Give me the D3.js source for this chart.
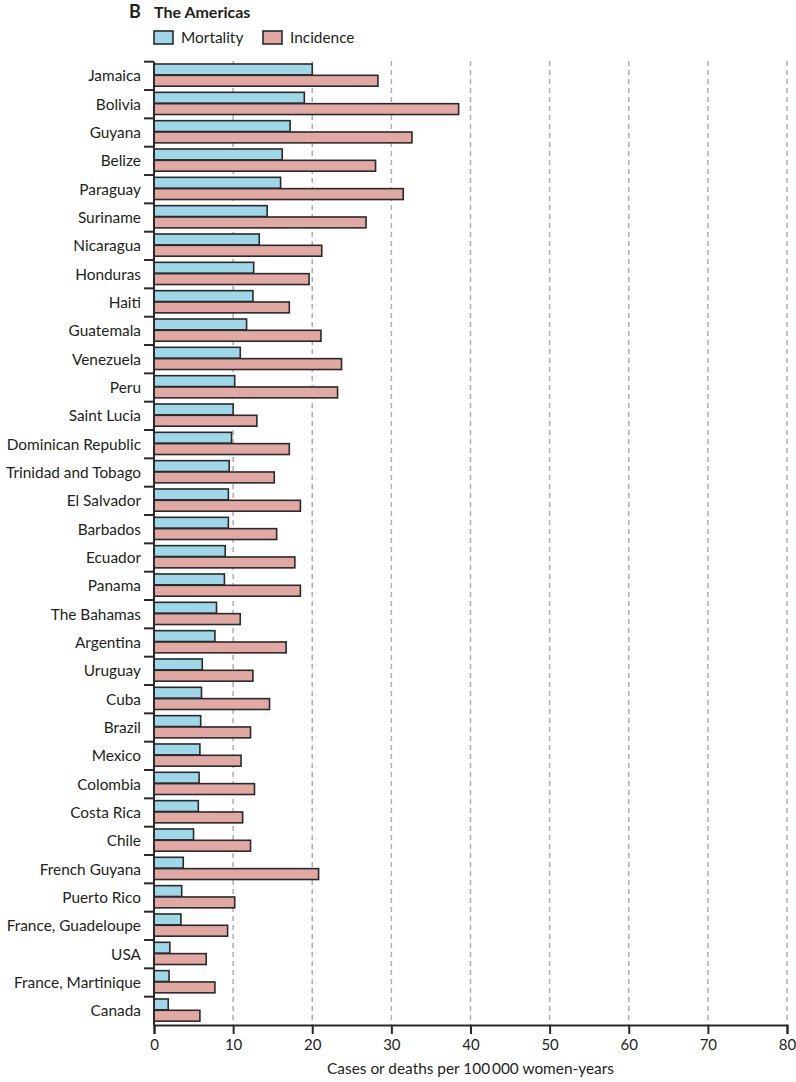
<!DOCTYPE html>
<html><head><meta charset="utf-8">
<script src="https://cdn.jsdelivr.net/npm/d3@7"></script>
<style>
body{margin:0;background:#fff;}
svg text{font-family:Lato,"Open Sans",sans-serif;fill:#231f20;}
</style></head>
<body><svg id="c" width="796" height="1082"></svg>
<script>
const countries = ["Jamaica","Bolivia","Guyana","Belize","Paraguay","Suriname","Nicaragua","Honduras","Haiti","Guatemala","Venezuela","Peru","Saint Lucia","Dominican Republic","Trinidad and Tobago","El Salvador","Barbados","Ecuador","Panama","The Bahamas","Argentina","Uruguay","Cuba","Brazil","Mexico","Colombia","Costa Rica","Chile","French Guyana","Puerto Rico","France, Guadeloupe","USA","France, Martinique","Canada"];
const mortality = [20.0,19.0,17.2,16.2,16.0,14.3,13.3,12.6,12.5,11.7,10.9,10.2,10.0,9.8,9.5,9.4,9.4,9.0,8.9,7.9,7.7,6.1,6.0,5.9,5.8,5.7,5.6,5.0,3.7,3.5,3.4,2.0,1.9,1.8];
const incidence = [28.3,38.5,32.6,28.0,31.5,26.8,21.2,19.6,17.1,21.1,23.7,23.2,13.0,17.1,15.2,18.5,15.5,17.8,18.5,10.9,16.7,12.5,14.6,12.2,11.0,12.7,11.2,12.2,20.8,10.2,9.3,6.6,7.7,5.8];
const seriesNames = ["Mortality","Incidence"];
const seriesColors = ["#9dd7e8","#e1a8a4"];
const xTicks = [0,10,20,30,40,50,60,70,80];
const panelLetter = "B";
const panelTitle = "The Americas";
const xTitle = "Cases or deaths per 100\u2009000 women-years";

const svg = d3.select("#c");
const x = d3.scaleLinear().domain([0,80]).range([154,787]);
const y = d3.scaleBand().domain(countries).range([61.7,1025]);
const ys = d3.scaleBand().domain(seriesNames).range([2.3,24.5]).paddingInner(0.04);
const stroke = "#2a2a2a";
const fs = 15.4;

// gridlines
svg.append("g").selectAll("line").data(xTicks.filter(d=>d>0)).join("line")
  .attr("x1",d=>x(d)).attr("x2",d=>x(d)).attr("y1",61).attr("y2",1025)
  .attr("stroke","#a8b0b9").attr("stroke-width",1.5).attr("stroke-dasharray","5,4");

// bars
const data = countries.map((c,i)=>({c, vals:[mortality[i],incidence[i]]}));
const g = svg.append("g").selectAll("g").data(data).join("g")
  .attr("transform",d=>`translate(0,${y(d.c)})`);
g.selectAll("rect").data(d=>d.vals.map((v,j)=>({v,s:seriesNames[j],j}))).join("rect")
  .attr("x",x(0)).attr("y",d=>ys(d.s)).attr("height",ys.bandwidth())
  .attr("width",d=>x(d.v)-x(0)).attr("fill",d=>seriesColors[d.j])
  .attr("stroke",stroke).attr("stroke-width",1.6);

// left axis
const yl = svg.append("g");
yl.append("line").attr("x1",154).attr("x2",154).attr("y1",61.7).attr("y2",1025).attr("stroke",stroke).attr("stroke-width",2);
const bounds = countries.map(c=>y(c));
yl.selectAll("line.t").data(bounds).join("line").attr("class","t")
  .attr("x1",144).attr("x2",154).attr("y1",d=>d).attr("y2",d=>d).attr("stroke",stroke).attr("stroke-width",2);
yl.selectAll("text").data(countries).join("text")
  .attr("x",141).attr("y",d=>y(d)+y.bandwidth()/2).attr("dy","0.35em")
  .attr("text-anchor","end").attr("font-size",fs).text(d=>d);

// bottom axis
const xa = svg.append("g").attr("transform","translate(0,1025)")
  .call(d3.axisBottom(x).tickValues(xTicks).tickSize(9).tickPadding(5));
xa.select(".domain").attr("stroke",stroke).attr("stroke-width",2);
xa.selectAll(".tick line").attr("stroke",stroke).attr("stroke-width",2);
xa.selectAll(".tick text").attr("font-size",15).attr("font-family","Lato").attr("fill","#231f20");

svg.append("text").attr("x",(x(0)+x(80))/2).attr("y",1074).attr("text-anchor","middle")
  .attr("font-size",fs).text(xTitle);

// title
svg.append("text").attr("x",129).attr("y",18).attr("font-size",18).attr("font-weight","bold").text(panelLetter);
svg.append("text").attr("x",154).attr("y",18).attr("font-size",16).attr("font-weight","bold").text(panelTitle);

// legend
const legX = [154,263];
const lg = svg.append("g").selectAll("g").data(seriesNames).join("g")
  .attr("transform",(d,i)=>`translate(${legX[i]},31)`);
lg.append("rect").attr("width",19).attr("height",13).attr("fill",(d,i)=>seriesColors[i])
  .attr("stroke",stroke).attr("stroke-width",1.6);
lg.append("text").attr("x",27).attr("y",6.5).attr("dy","0.35em").attr("font-size",fs).text(d=>d);
</script></body></html>
